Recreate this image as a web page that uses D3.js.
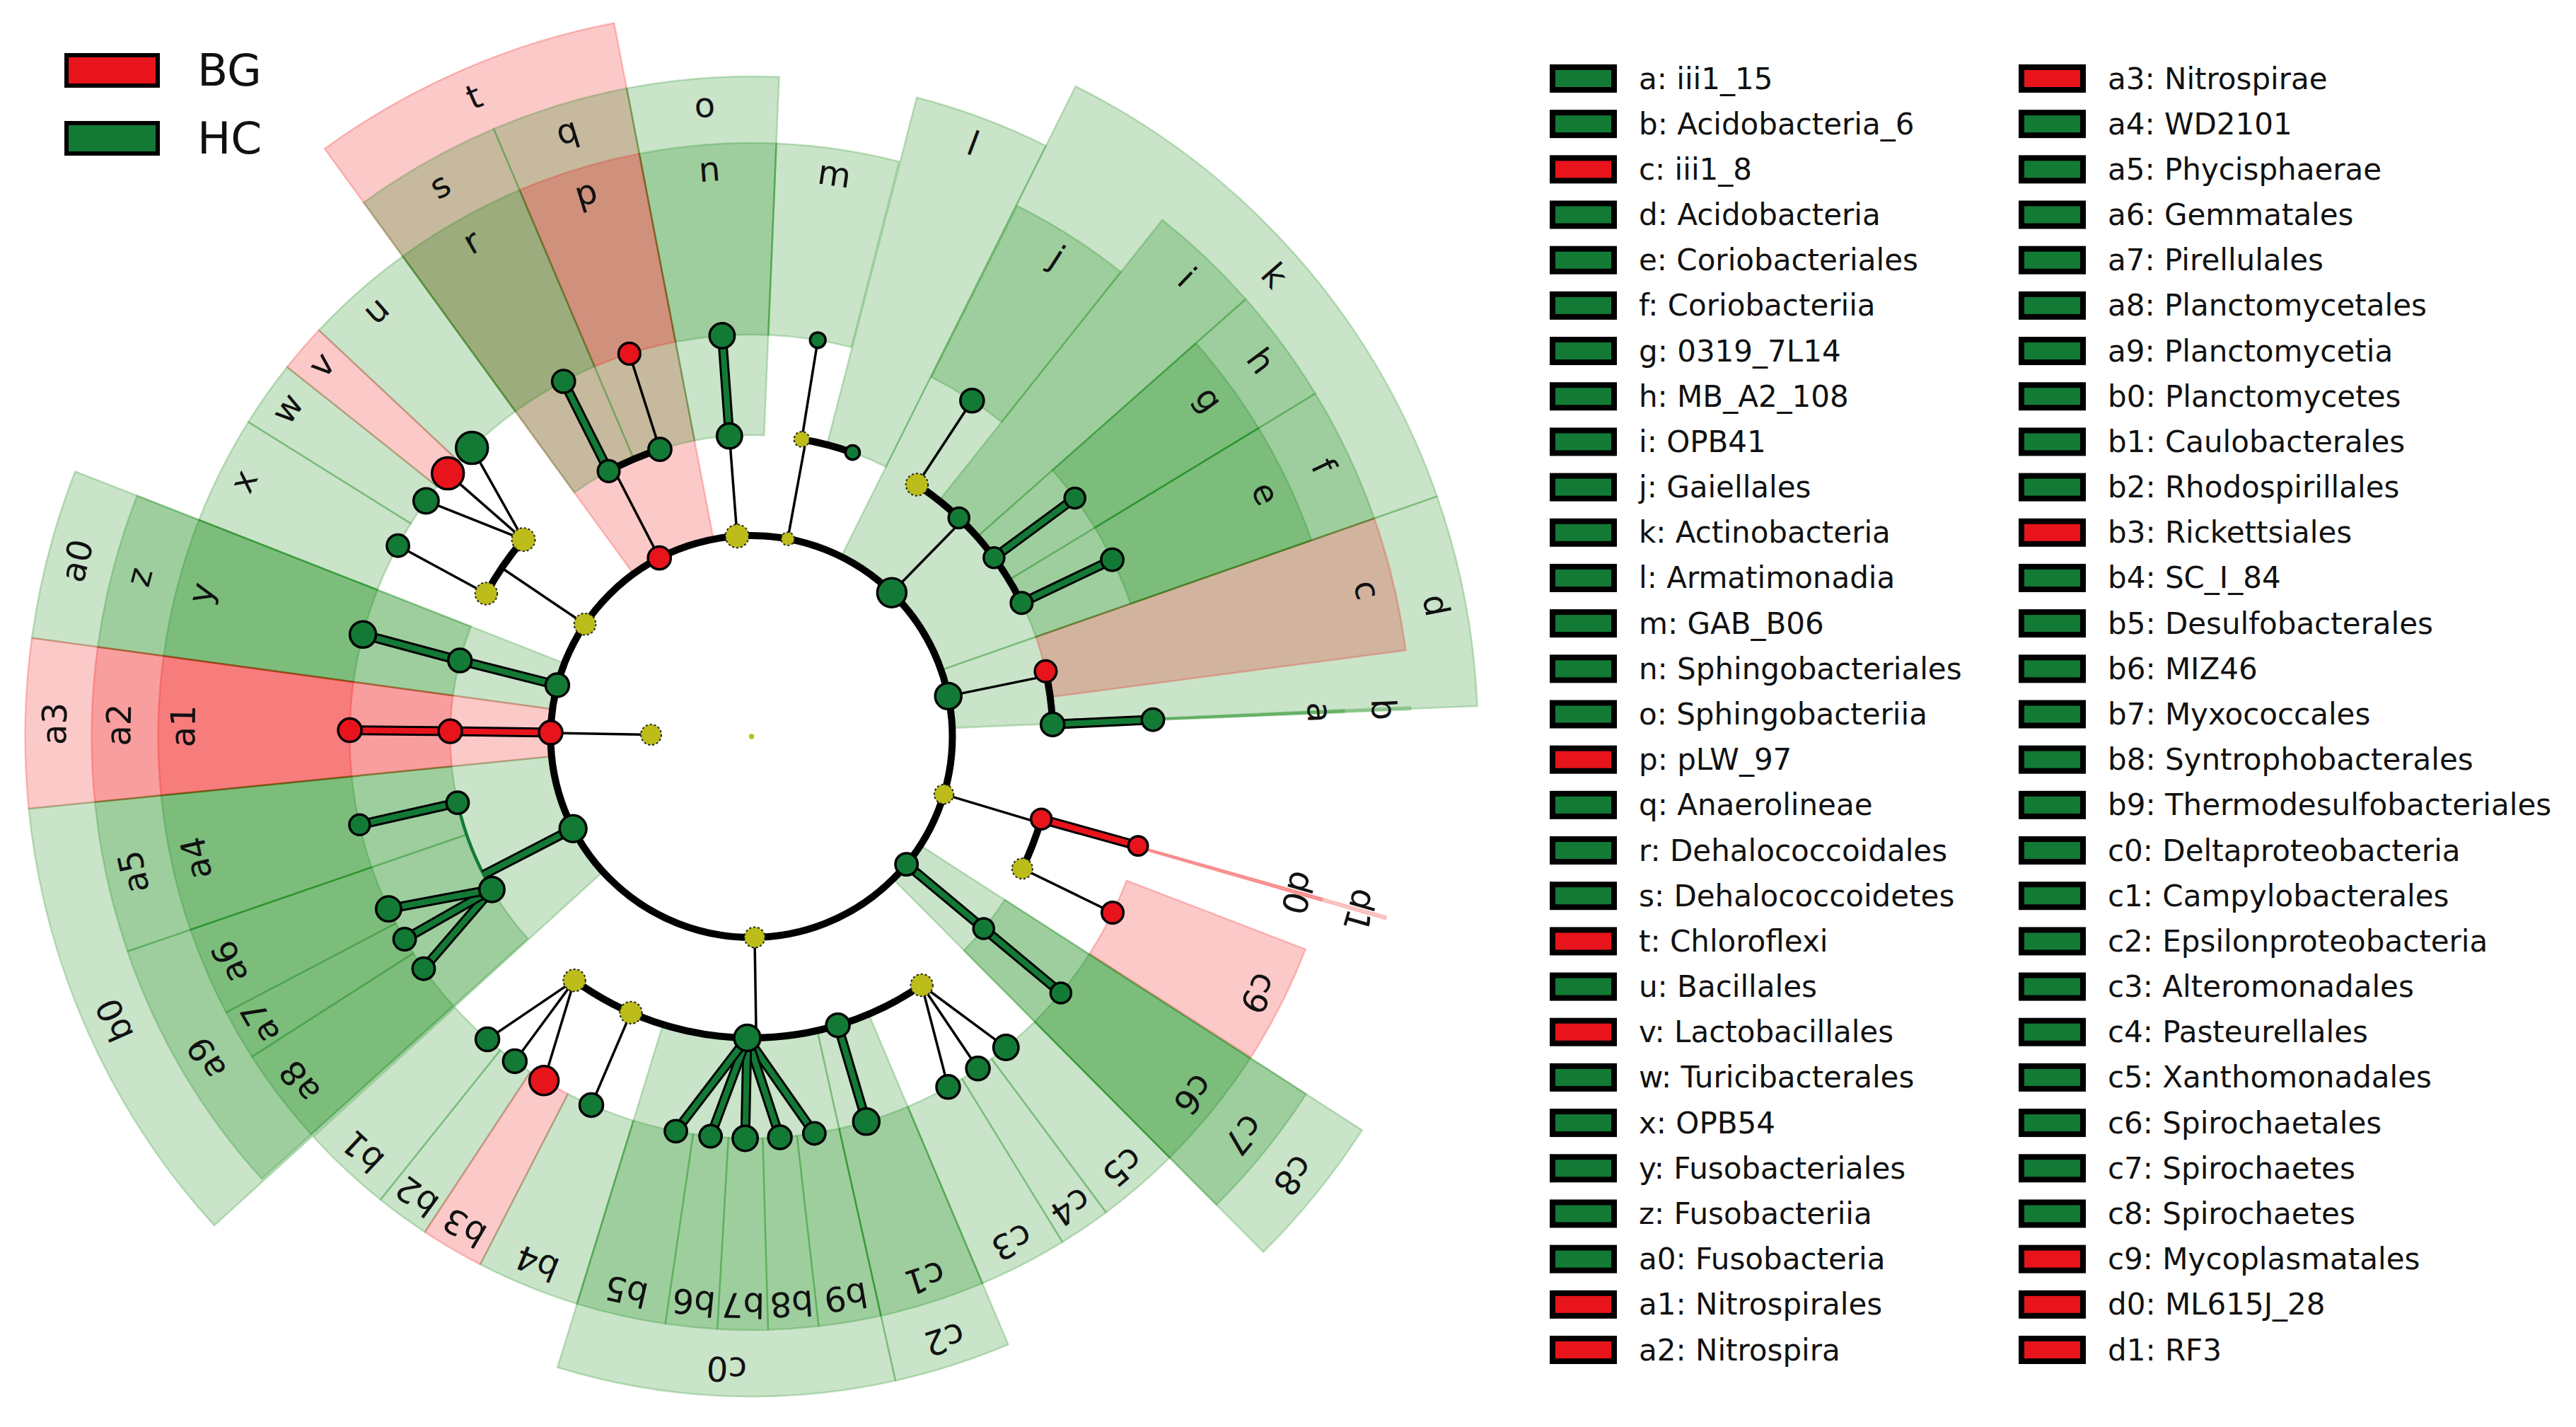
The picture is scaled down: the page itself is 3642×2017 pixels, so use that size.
<!DOCTYPE html>
<html><head><meta charset="utf-8">
<script src="https://cdn.jsdelivr.net/npm/d3@7"></script>
<style>body{margin:0;background:#fff} text{font-family:"DejaVu Sans",sans-serif}</style>
</head><body><svg id="chart" width="3642" height="2017"></svg>
<script>
// ---------------- DATA ----------------
const groupNames = ["BG", "HC"];

// biomarkers (legend order)
const markerIds = ["a","b","c","d","e","f","g","h","i","j","k","l","m","n","o","p","q","r","s","t","u","v","w","x","y","z","a0","a1","a2",
  "a3","a4","a5","a6","a7","a8","a9","b0","b1","b2","b3","b4","b5","b6","b7","b8","b9","c0","c1","c2","c3","c4","c5","c6","c7","c8","c9","d0","d1"];
const markerNames = ["iii1_15","Acidobacteria_6","iii1_8","Acidobacteria","Coriobacteriales","Coriobacteriia","0319_7L14","MB_A2_108","OPB41","Gaiellales","Actinobacteria","Armatimonadia","GAB_B06","Sphingobacteriales","Sphingobacteriia","pLW_97","Anaerolineae","Dehalococcoidales","Dehalococcoidetes","Chloroflexi","Bacillales","Lactobacillales","Turicibacterales","OPB54","Fusobacteriales","Fusobacteriia","Fusobacteria","Nitrospirales","Nitrospira",
  "Nitrospirae","WD2101","Phycisphaerae","Gemmatales","Pirellulales","Planctomycetales","Planctomycetia","Planctomycetes","Caulobacterales","Rhodospirillales","Rickettsiales","SC_I_84","Desulfobacterales","MIZ46","Myxococcales","Syntrophobacterales","Thermodesulfobacteriales","Deltaproteobacteria","Campylobacterales","Epsilonproteobacteria","Alteromonadales","Pasteurellales","Xanthomonadales","Spirochaetales","Spirochaetes","Spirochaetes","Mycoplasmatales","ML615J_28","RF3"];
const markerGroups = ["HC","HC","BG","HC","HC","HC","HC","HC","HC","HC","HC","HC","HC","HC","HC","BG","HC","HC","HC","BG","HC","BG","HC","HC","HC","HC","HC","BG","BG",
  "BG","HC","HC","HC","HC","HC","HC","HC","HC","HC","BG","HC","HC","HC","HC","HC","HC","HC","HC","HC","HC","HC","HC","HC","HC","HC","BG","BG","BG"];
// clade angular span (degrees, clockwise from top)
const markerStart = [87.4,87.4,70.7,70.7,58.7,58.7,48.5,48.5,38.5,26.6,26.5,14.5,2.4,-10.9,-10.9,337.0,337.0,324.0,324.0,324.0,313.2,308.5,302.0,291.4,277.8,277.8,277.8,264.3,264.3,
  264.3,251.0,251.0,242.3,237.35,227.9,227.9,227.7,218.7,213.4,207.2,197.1,188.35,183.3,178.4,173.5,167.4,167.4,157.1,157.1,148.4,143.3,135.2,122.8,122.8,122.8,111.0,105.8,105.8];
const markerEnd = [87.7,87.7,82.5,87.6,70.7,70.7,58.7,58.7,48.5,38.5,70.7,26.5,14.4,2.4,2.4,349.1,349.1,337.0,337.0,349.1,324.0,313.2,308.5,302.0,291.4,291.4,291.4,277.8,277.8,
  277.8,264.3,264.3,251.0,242.3,237.35,251.0,264.3,227.6,218.7,213.4,207.2,197.1,188.35,183.3,178.4,173.5,197.1,167.4,167.4,157.1,148.4,143.3,135.2,135.2,135.2,122.7,106.1,106.1];

// tree nodes (taxonomic level: 0 root, 1 kingdom, 2 phylum, 3 class, 4 order)
const nodeIds = ["root","Bacteria",
  "Bacteroidetes","o","n",
  "Armatimonadetes","ArmC","m","l",
  "k","ActC","j","i","h","g","f","e",
  "d","c","b","a",
  "Tenericutes","d1","d0","Mollicutes","c9",
  "c8","c7","c6",
  "Proteobacteria","Gamma","c5","c4","c3","c2","c1","c0","b9","b8","b7","b6","b5","Beta","b4","Alpha","b3","b2","b1",
  "b0","a9","a8","a7","a6","a5","a4",
  "a3","a2","a1",
  "a0","z","y",
  "Firmicutes","FirmC","x","Bacilli","w","v","u",
  "t","s","r","q","p"];
const nodeParents = ["","",
  "Bacteria","Bacteroidetes","o",
  "Bacteria","Armatimonadetes","ArmC","Armatimonadetes",
  "Bacteria","k","ActC","k","k","h","k","f",
  "Bacteria","d","d","b",
  "Bacteria","Tenericutes","d1","Tenericutes","Mollicutes",
  "Bacteria","c8","c7",
  "Bacteria","Proteobacteria","Gamma","Gamma","Gamma","Proteobacteria","c2","Proteobacteria","c0","c0","c0","c0","c0","Proteobacteria","Beta","Proteobacteria","Alpha","Alpha","Alpha",
  "Bacteria","b0","a9","a9","a9","b0","a5",
  "Bacteria","a3","a2",
  "Bacteria","a0","z",
  "Bacteria","Firmicutes","FirmC","Firmicutes","Bacilli","Bacilli","Bacilli",
  "Bacteria","t","s","t","q"];
const nodeLevels = [0,1, 2,3,4, 2,3,4,3, 2,3,4,3,3,4,3,4, 2,3,3,4, 2,3,4,3,4, 2,3,4,
  2,3,4,4,4,3,4,3,4,4,4,4,4,3,4,3,4,4,4, 2,3,4,4,4,3,4, 2,3,4, 2,3,4, 2,3,4,3,4,4,4, 2,3,4,3,4];
const nodeAngles = [0,271,
  355.9,355.8,355.8,
  10.4,9.6,9.5,19.6,
  44.3,33.3,33.3,43.5,53.6,53.6,63.7,63.9,
  78.4,77.5,87.7,87.6,
  106.7,105.9,105.8,116.0,116.0,
  129.5,129.6,129.65,
  179.1,145.6,140.7,145.7,150.7,163.35,163.4,180.8,171.0,175.95,180.9,185.85,190.85,203.6,203.5,216.0,211.1,216.1,221.1,
  242.7,239.5,234.7,239.7,244.6,257.3,257.3,
  271.1,271.0,270.9,
  284.8,284.6,284.7,
  304.0,298.3,298.35,310.8,305.9,310.9,315.9,
  332.7,331.7,332.1,342.3,342.3];
// log10 abundance (node size)
const nodeLogAbund = [1.3,4.0,
  4.5,4.8,4.8,
  2.7,3.1,3.1,2.9,
  5.5,4.3,4.5,4.0,4.0,4.0,4.2,4.3,
  5.0,4.2,4.5,4.3,
  3.8,4.0,3.8,4.0,4.2,
  4.3,4.0,4.0,
  4.0,4.3,4.8,4.5,4.5,4.5,5.0,5.0,4.3,4.5,4.8,4.3,4.3,4.3,4.5,4.3,5.5,4.5,4.5,
  5.1,4.8,4.3,4.3,4.8,4.3,4.0,
  4.5,4.5,4.5,
  4.5,4.5,5.0,
  4.2,4.3,4.3,4.5,4.8,6.0,6.0,
  4.4,4.2,4.4,4.4,4.2];

// ---------------- DRAW ----------------
const svg = d3.select("#chart");
svg.append("rect").attr("width",3642).attr("height",2017).attr("fill","#fff");

const cx = 1062.5, cy = 1041;
const RED = "#e8141c", GREEN = "#137a36", YEL = "#bcbc1a";
const nodeColor = d3.scaleOrdinal().domain(groupNames).range([RED, GREEN]);
const shadeColor = d3.scaleOrdinal().domain(groupNames).range(["#f00000", "#008000"]);

const angle = d3.scaleLinear().domain([0, 360]).range([0, 2 * Math.PI]);
const radius = d3.scaleLinear().domain([0, 4]).range([0, 568]);
const outerR = d3.scaleLinear().domain([2, 4]).range([1027, 839]);
const labelR = d3.scaleLinear().domain([2, 4]).range([986, 804]);
const sizeR = d3.scaleLinear().domain([0, 6]).range([0, 24]);

function pos(r, deg) { const a = angle(deg); return [cx + r * Math.sin(a), cy - r * Math.cos(a)]; }

const markerIndex = new Map(markerIds.map((id, i) => [id, i]));
const nodes = nodeIds.map((id, i) => ({
  id, parent: nodeParents[i], level: nodeLevels[i], ang: nodeAngles[i],
  ab: nodeLogAbund[i], group: markerIndex.has(id) ? markerGroups[markerIndex.get(id)] : null
}));
const byId = new Map(nodes.map(n => [n.id, n]));
nodes.forEach(n => n.children = nodes.filter(c => c.parent === n.id));

// wedges
const gW = svg.append("g").attr("transform", `translate(${cx},${cy})`);
const markers = markerIds.map((id, i) => ({ id, name: markerNames[i], group: markerGroups[i],
  level: byId.get(id).level, s: markerStart[i], e: markerEnd[i] }));
const arcGen = d3.arc();
markers.slice().sort((a, b) => a.level - b.level).forEach(m => {
  const narrow = (m.e - m.s) < 1;
  gW.append("path")
    .attr("d", arcGen({ innerRadius: radius(m.level), outerRadius: outerR(m.level),
      startAngle: angle(m.s), endAngle: angle(m.e) }))
    .attr("fill", shadeColor(m.group)).attr("fill-opacity", 0.21)
    .attr("stroke", shadeColor(m.group)).attr("stroke-opacity", narrow ? 0.14 : 0.22)
    .attr("stroke-width", narrow ? 2 : 2.5);
});

// links
const gThin = svg.append("g"), gThick = svg.append("g");
function line(g, p1, p2, kind, color) {
  const d = `M${p1[0]},${p1[1]}L${p2[0]},${p2[1]}`;
  if (kind === "thin") g.append("path").attr("d", d).attr("stroke", "#000").attr("stroke-width", 3.5).attr("fill", "none");
  else {
    g.append("path").attr("d", d).attr("stroke", "#000").attr("stroke-width", 14).attr("fill", "none");
    g.append("path").attr("d", d).attr("stroke", color).attr("stroke-width", 8).attr("fill", "none");
  }
}
function arcLine(g, r, a0, a1, kind, color) {
  const p = d3.path();
  const s = angle(a0) - Math.PI / 2, e = angle(a1) - Math.PI / 2;
  p.moveTo(cx + r * Math.cos(s), cy + r * Math.sin(s));
  p.arc(cx, cy, r, s, e, false);
  const path = g.append("path").attr("d", p.toString()).attr("fill", "none");
  if (kind === "heavy") path.attr("stroke", "#000").attr("stroke-width", 10);
  else path.attr("stroke", color).attr("stroke-width", 4.5);
}

nodes.forEach(P => {
  if (!P.children.length) return;
  const rp = radius(P.level), rc = radius(P.level + 1);
  if (P.level <= 2 && P.children.length >= 2) {
    const same = P.group && P.children.every(c => c.group === P.group);
    const angs = P.children.map(c => c.ang).concat([P.ang]);
    const p1 = pos(rp, P.ang), p2 = pos(rc, P.ang);
    if (P.level === 1) arcLine(gThick, rc, 0, 360, "heavy");
    else if (same) arcLine(gThin, rc, d3.min(angs), d3.max(angs), "thinc", nodeColor(P.group));
    else arcLine(gThick, rc, d3.min(angs), d3.max(angs), "heavy");
    if (same) line(gThick, p1, p2, "thick", nodeColor(P.group));
    else line(gThin, p1, p2, "thin");
  } else {
    P.children.forEach(C => {
      const p1 = pos(rp, P.ang), p2 = pos(radius(C.level), C.ang);
      if (P.group && C.group === P.group) line(gThick, p1, p2, "thick", nodeColor(P.group));
      else line(gThin, p1, p2, "thin");
    });
  }
});

// nodes
const gN = svg.append("g");
nodes.forEach(n => {
  const [x, y] = pos(radius(n.level), n.ang);
  const c = gN.append("circle").attr("cx", x).attr("cy", y).attr("r", sizeR(n.ab) - 1.5)
    .attr("fill", n.group ? nodeColor(n.group) : YEL);
  if (n.group) c.attr("stroke", "#000").attr("stroke-width", 3.5);
  else if (n.level > 0) c.attr("stroke", "#222").attr("stroke-width", 2).attr("stroke-dasharray", "3,3");
});

// clade labels
const gL = svg.append("g");
markers.forEach(m => {
  const mid = (m.s + m.e) / 2;
  const [x, y] = pos(labelR(m.level), mid);
  gL.append("text").attr("transform", `translate(${x},${y}) rotate(${mid})`)
    .attr("text-anchor", "middle").attr("dominant-baseline", "central")
    .attr("font-size", 48).attr("fill", "#111").text(m.id);
});

// top-left legend
const gLeg = svg.append("g");
groupNames.forEach((g, i) => {
  const y0 = 78 + i * 96;
  gLeg.append("rect").attr("x", 94).attr("y", y0).attr("width", 129).attr("height", 43)
    .attr("fill", nodeColor(g)).attr("stroke", "#000").attr("stroke-width", 6);
  gLeg.append("text").attr("x", 279).attr("y", y0 + 21.5).attr("dominant-baseline", "central")
    .attr("font-size", 63).attr("fill", "#111").text(g);
});

// right legend
const gR = svg.append("g");
const rowsPerCol = 29;
const rowY = d3.scaleLinear().domain([0, rowsPerCol - 1]).range([111, 1908]);
const colX = [2191, 2854];
markers.forEach((m, i) => {
  const col = Math.floor(i / rowsPerCol), row = i % rowsPerCol;
  const y = rowY(row), x = colX[col];
  gR.append("rect").attr("x", x + 4).attr("y", y - 16).attr("width", 87).attr("height", 32)
    .attr("fill", nodeColor(m.group)).attr("stroke", "#000").attr("stroke-width", 8);
  gR.append("text").attr("x", x + 126).attr("y", y).attr("dominant-baseline", "central")
    .attr("font-size", 42).attr("fill", "#111").text(`${m.id}: ${m.name}`);
});
</script></body></html>
